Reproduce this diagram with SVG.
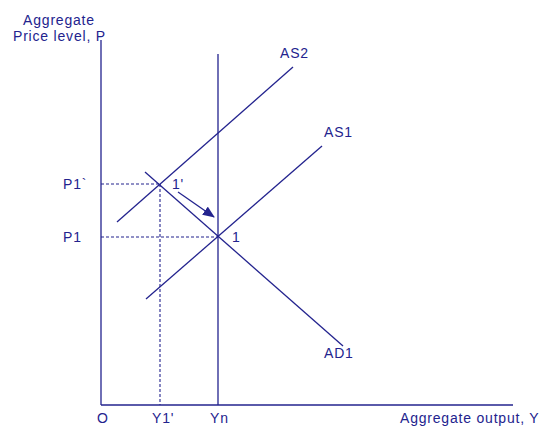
<svg xmlns="http://www.w3.org/2000/svg" width="548" height="426" viewBox="0 0 548 426">
<defs>
<style>
.ln{stroke:#23238e;stroke-width:1.3;fill:none}
.ds{stroke:#23238e;stroke-width:1.1;fill:none;stroke-dasharray:3,2}
text{font-family:"Liberation Sans",Arial,sans-serif;font-size:14px;fill:#23238e;letter-spacing:0.8px}
</style>
<marker id="ah" viewBox="0 0 12 10" refX="11" refY="5" markerWidth="12" markerHeight="10" markerUnits="userSpaceOnUse" orient="auto">
<path d="M0,0 L12,5 L0,10 z" fill="#23238e"/>
</marker>
</defs>
<rect width="548" height="426" fill="#fff"/>
<g id="axes">
<line class="ln" x1="101" y1="40" x2="101" y2="405"/>
<line class="ln" x1="101" y1="405" x2="513" y2="405"/>
<text x="59" y="25" text-anchor="middle">Aggregate</text>
<text x="13" y="41">Price level, P</text>
<text x="400" y="423">Aggregate output, Y</text>
<text x="97" y="423">O</text>
</g>
<g id="connectors">
<line class="ds" x1="101" y1="184" x2="160" y2="184"/>
<line class="ds" x1="160" y1="184" x2="160" y2="405"/>
<line class="ds" x1="101" y1="237" x2="218" y2="237"/>
<line class="ln" x1="178" y1="192" x2="214" y2="217" marker-end="url(#ah)"/>
</g>
<g id="Yn">
<line class="ln" x1="218" y1="54" x2="218" y2="405"/>
<text x="210" y="423">Yn</text>
</g>
<g id="Y1p"><text x="152" y="423">Y1'</text></g>
<g id="AD1">
<line class="ln" x1="145" y1="172" x2="343" y2="346"/>
<text x="324" y="358">AD1</text>
</g>
<g id="AS2">
<line class="ln" x1="117" y1="222" x2="293" y2="67"/>
<text x="280" y="58">AS2</text>
</g>
<g id="AS1">
<line class="ln" x1="146" y1="299" x2="322" y2="146"/>
<text x="324" y="137">AS1</text>
</g>
<g id="P1p"><text x="63" y="189">P1`</text></g>
<g id="P1"><text x="63" y="242">P1</text></g>
<g id="pt1p"><text x="172" y="189">1'</text></g>
<g id="pt1"><text x="232" y="242">1</text></g>
</svg>
